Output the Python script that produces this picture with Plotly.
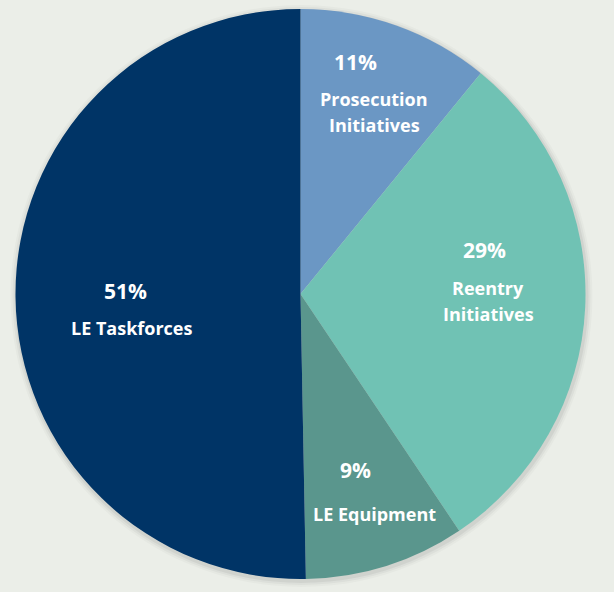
import plotly.graph_objects as go

W, H = 614, 592

categories = ["Prosecution Initiatives", "Reentry Initiatives", "LE Equipment", "LE Taskforces"]
values = [10.9, 29.7, 9.1, 50.3]
colors = ["#6b97c4", "#70c2b4", "#5a968d", "#003466"]
pct_labels = ["11%", "29%", "9%", "51%"]
name_lines = [["Prosecution", "Initiatives"], ["Reentry", "Initiatives"], ["LE Equipment"], ["LE Taskforces"]]

# label placement (pixels) for percent text and first name line
pct_pos = [(355, 62), (484, 250), (355, 470), (125, 291)]
name_pos = [(374, 99), (488, 288), (374, 514), (132, 328)]
line_gap = 26

cx, cy, r = 300.5, 294, 285

fig = go.Figure()
fig.add_trace(go.Pie(
    labels=categories,
    values=values,
    sort=False,
    direction="clockwise",
    rotation=0,
    marker=dict(colors=colors, line=dict(width=0)),
    textinfo="none",
    hoverinfo="label+percent",
    showlegend=False,
    domain=dict(x=[(cx - r) / W, (cx + r) / W], y=[1 - (cy + r) / H, 1 - (cy - r) / H]),
))

# soft shadow under the pie
shapes = []
for k, a in [(6, 0.025), (4, 0.035), (2, 0.05)]:
    shapes.append(dict(
        type="circle", xref="paper", yref="paper", layer="below",
        x0=(cx - r - k + 1) / W, x1=(cx + r + k + 1) / W,
        y0=1 - (cy + r + k + 2) / H, y1=1 - (cy - r - k + 2) / H,
        fillcolor=f"rgba(0,0,0,{a})", line=dict(width=0),
    ))

font_family = "Open Sans"
annotations = []
for t, (px, py) in zip(pct_labels, pct_pos):
    annotations.append(dict(
        text=f"<b>{t}</b>", x=px / W, y=1 - py / H, xref="paper", yref="paper",
        showarrow=False, xanchor="center", yanchor="middle",
        font=dict(family=font_family, size=21, color="white"),
    ))
for lines, (px, py) in zip(name_lines, name_pos):
    for i, t in enumerate(lines):
        annotations.append(dict(
            text=f"<b>{t}</b>", x=px / W, y=1 - (py + i * line_gap) / H, xref="paper", yref="paper",
            showarrow=False, xanchor="center", yanchor="middle",
            font=dict(family=font_family, size=18, color="white"),
        ))

fig.update_layout(
    width=W, height=H,
    margin=dict(l=0, r=0, t=0, b=0),
    paper_bgcolor="#ebeee8",
    plot_bgcolor="#ebeee8",
    shapes=shapes,
    annotations=annotations,
)

fig.write_html("out.html")
